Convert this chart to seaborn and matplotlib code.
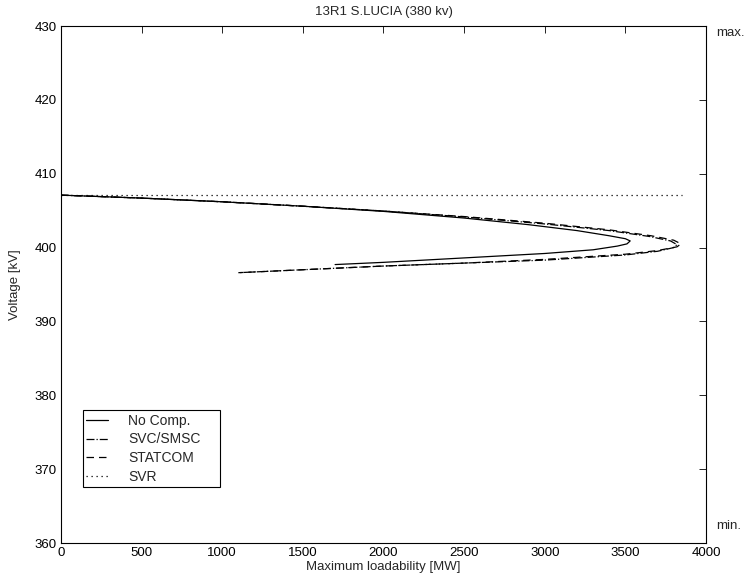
import matplotlib
matplotlib.use("Agg")
import matplotlib.pyplot as plt
import seaborn as sns
import pandas as pd

sns.set_theme(style="white")
plt.rcParams['font.family'] = ['Liberation Sans', 'DejaVu Sans']

# No Comp. (upper branch then lower branch)
nocomp_p = [0, 500, 1000, 1500, 2000, 2500, 2900, 3200, 3400, 3500, 3530, 3510, 3450, 3300, 3000, 2500, 2000, 1700]
nocomp_v = [407.1, 406.7, 406.2, 405.6, 404.9, 404.0, 403.1, 402.3, 401.6, 401.2, 400.9, 400.5, 400.2, 399.7, 399.2, 398.6, 398.0, 397.7]

# SVC/SMSC
svc_p = [0, 500, 1000, 1500, 2000, 2500, 3000, 3400, 3650, 3780, 3820, 3800, 3700, 3500, 3000, 2500, 2000, 1500, 1100]
svc_v = [407.1, 406.7, 406.2, 405.6, 404.95, 404.15, 403.2, 402.3, 401.5, 400.9, 400.4, 400.0, 399.5, 399.0, 398.3, 397.9, 397.5, 397.0, 396.6]

# STATCOM
statcom_p = [0, 500, 1000, 1500, 2000, 2500, 3000, 3400, 3660, 3800, 3845, 3820, 3700, 3500, 3000, 2500, 2000, 1500, 1100]
statcom_v = [407.1, 406.7, 406.2, 405.6, 404.95, 404.2, 403.3, 402.4, 401.6, 401.0, 400.5, 400.1, 399.6, 399.1, 398.4, 397.9, 397.5, 397.0, 396.6]

# SVR
svr_p = [0, 3850]
svr_v = [407.1, 407.1]

# limits
vmax = 430
vmin = 360

fig = plt.figure(figsize=(7.5, 5.83), dpi=100)
ax = fig.add_axes([0.0813, 0.0686, 0.8600, 0.8868])

series = [
    ("No Comp.", nocomp_p, nocomp_v, "-"),
    ("SVC/SMSC", svc_p, svc_v, "-."),
    ("STATCOM", statcom_p, statcom_v, (0, (6, 4))),
    ("SVR", svr_p, svr_v, (0, (1, 3))),
]
for name, p, v, ls in series:
    df = pd.DataFrame({"P": p, "V": v})
    sns.lineplot(data=df, x="P", y="V", sort=False, estimator=None, ax=ax,
                 color="black", linewidth=0.9, linestyle=ls, label=name)

ax.axhline(vmax, color="red", linestyle=(0, (3, 5)), linewidth=0.6, alpha=0.7)
ax.axhline(vmin, color="red", linestyle=(0, (3, 5)), linewidth=0.6, alpha=0.7)

ax.set_xlim(0, 4000)
ax.set_ylim(360, 430)
ax.set_xticks(range(0, 4001, 500))
ax.set_yticks(range(360, 431, 10))
ax.tick_params(direction="in", top=True, right=True, length=5, width=0.6,
               labelsize=9.5, colors="black", pad=3)
for s in ax.spines.values():
    s.set_color("black")
    s.set_linewidth(0.8)

ax.set_xlabel("Maximum loadability [MW]", fontsize=9.5, labelpad=1)
ax.set_ylabel("Voltage [kV]", fontsize=9.5, labelpad=10)
ax.set_title("13R1 S.LUCIA (380 kv)", fontsize=9.5, pad=8)

ax.text(1.016, 0.987, "max.", transform=ax.transAxes, fontsize=9.5, va="center", ha="left")
ax.text(1.016, 0.033, "min.", transform=ax.transAxes, fontsize=9.5, va="center", ha="left")

leg = ax.legend(loc="lower left", bbox_to_anchor=(0.034, 0.108, 0.2124, 0.14),
                mode="expand", fontsize=10,
                frameon=True, fancybox=False, edgecolor="black", framealpha=1,
                handlelength=1.6, borderpad=0.22, labelspacing=0.35, handletextpad=1.45,
                borderaxespad=0)
leg.get_frame().set_linewidth(0.8)

fig.savefig("out.png", dpi=100)
